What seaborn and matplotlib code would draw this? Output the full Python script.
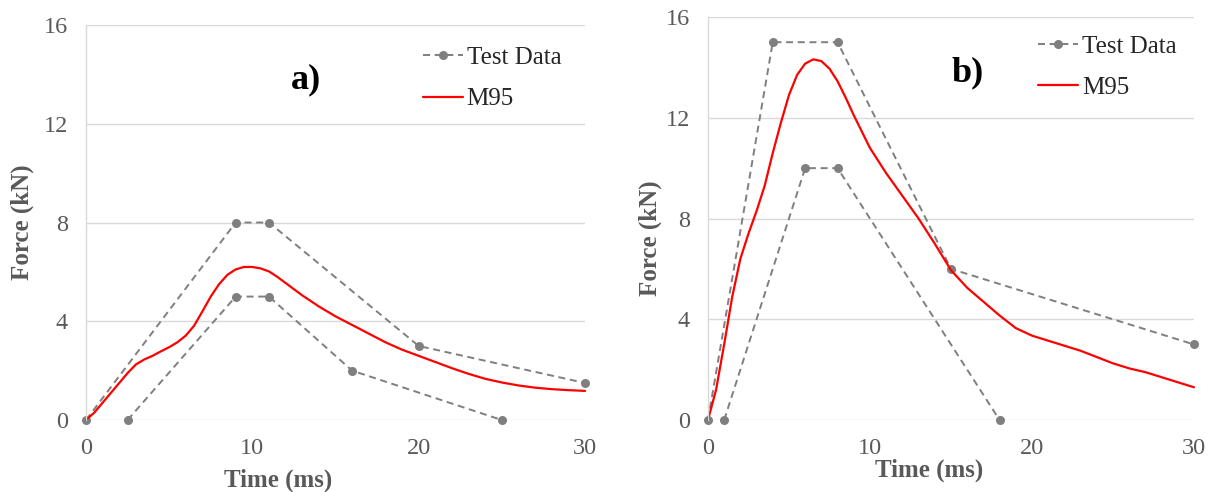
import numpy as np
import pandas as pd
import matplotlib
matplotlib.use('Agg')
import matplotlib.pyplot as plt
import seaborn as sns

# panel a) test data (upper / lower bounds)
a_test_hi_t = [0, 9, 11, 20, 30]
a_test_hi_f = [0, 8, 8, 3, 1.5]
a_test_lo_t = [2.5, 9, 11, 16, 25]
a_test_lo_f = [0, 5, 5, 2, 0]

# panel a) M95 simulation
a_m95_t = [0, 0.5, 1, 1.5, 2, 2.5, 3, 3.5, 4, 4.5, 5, 5.5, 6, 6.5, 7, 7.5, 8, 8.5, 9,
           9.5, 10, 10.5, 11, 11.5, 12, 13, 14, 15, 16, 17, 18, 19, 20, 21, 22, 23,
           24, 25, 26, 27, 28, 29, 30]
a_m95_f = [0, 0.3, 0.7, 1.1, 1.5, 1.9, 2.25, 2.45, 2.6, 2.78, 2.95, 3.15, 3.42, 3.82,
           4.4, 5.0, 5.5, 5.88, 6.1, 6.2, 6.2, 6.14, 6.02, 5.8, 5.55, 5.05, 4.6, 4.2,
           3.85, 3.5, 3.15, 2.85, 2.6, 2.35, 2.1, 1.87, 1.67, 1.52, 1.4, 1.31, 1.25,
           1.21, 1.18]

# panel b) test data
b_test_hi_t = [0, 4, 8, 15, 30]
b_test_hi_f = [0, 15, 15, 6, 3]
b_test_lo_t = [1, 6, 8, 18]
b_test_lo_f = [0, 10, 10, 0]

# panel b) M95 simulation
b_m95_t = [0, 0.5, 1, 1.5, 2, 2.5, 3, 3.5, 4, 4.5, 5, 5.5, 6, 6.5, 7, 7.5, 8, 8.5, 9,
           9.5, 10, 11, 12, 13, 14, 15, 16, 17, 18, 19, 20, 21, 22, 23, 24, 25, 26,
           27, 28, 29, 30]
b_m95_f = [0, 1.2, 3.0, 4.9, 6.4, 7.4, 8.3, 9.3, 10.6, 11.8, 12.9, 13.7, 14.15, 14.32,
           14.25, 13.95, 13.45, 12.8, 12.1, 11.45, 10.8, 9.8, 8.9, 8.0, 7.0, 5.95, 5.25,
           4.7, 4.15, 3.65, 3.35, 3.15, 2.95, 2.75, 2.5, 2.25, 2.05, 1.9, 1.7, 1.5, 1.3]

xticks = [0, 10, 20, 30]
yticks = [0, 4, 8, 12, 16]

sns.set_theme(style='white')
plt.rcParams['font.family'] = ['Liberation Serif', 'DejaVu Serif']

GRAY = '#7f7f7f'
TXT = '#595959'
GRID = '#d9d9d9'

fig = plt.figure(figsize=(12.16, 4.92), dpi=100)
ax_a = fig.add_axes([0.0707, 0.1463, 0.4104, 0.8029])
ax_b = fig.add_axes([0.5822, 0.1463, 0.3997, 0.8191])


def draw_panel(ax, hi_t, hi_f, lo_t, lo_f, m_t, m_f):
    test_kw = dict(color=GRAY, linestyle=(0, (3.6, 2.4)), linewidth=1.4,
                   marker='o', markersize=6.5, markeredgewidth=0, clip_on=False)
    sns.lineplot(x=hi_t, y=hi_f, ax=ax, label='Test Data', sort=False, **test_kw)
    sns.lineplot(x=lo_t, y=lo_f, ax=ax, sort=False, **test_kw)
    sns.lineplot(x=m_t, y=m_f, ax=ax, color='red', linewidth=1.6, label='M95',
                 sort=False, clip_on=False)
    ax.set_xlim(0, 30)
    ax.set_ylim(0, 16)
    ax.set_xticks(xticks)
    ax.set_yticks(yticks)
    ax.grid(axis='y', color=GRID, linewidth=1)
    ax.set_axisbelow(True)
    for s in ['top', 'right', 'bottom']:
        ax.spines[s].set_visible(False)
    ax.spines['left'].set_color(GRID)
    ax.spines['left'].set_linewidth(1)
    ax.tick_params(length=0, labelsize=17.5, labelcolor=TXT)
    ax.tick_params(axis='y', pad=13)
    ax.tick_params(axis='x', pad=13)
    ax.set_xlabel('Time (ms)', fontsize=18, fontweight='bold', color=TXT)
    ax.set_ylabel('Force (kN)', fontsize=18, fontweight='bold', color=TXT)


draw_panel(ax_a, a_test_hi_t, a_test_hi_f, a_test_lo_t, a_test_lo_f, a_m95_t, a_m95_f)
draw_panel(ax_b, b_test_hi_t, b_test_hi_f, b_test_lo_t, b_test_lo_f, b_m95_t, b_m95_f)

ax_a.xaxis.set_label_coords(0.385, -0.122)
ax_b.xaxis.set_label_coords(0.455, -0.095)
ax_a.yaxis.set_label_coords(-0.104, 0.5)
ax_b.yaxis.set_label_coords(-0.095, 0.45)

leg_kw = dict(frameon=False, fontsize=18, handlelength=1.6, handletextpad=0.15,
              labelspacing=0.75, borderpad=0, borderaxespad=0, loc='upper left')
ax_a.legend(bbox_to_anchor=(0.675, 0.945), **leg_kw)
ax_b.legend(bbox_to_anchor=(0.68, 0.955), **leg_kw)

ax_a.text(0.44, 0.86, 'a)', transform=ax_a.transAxes, fontsize=26, fontweight='bold',
          ha='center', va='center', color='black')
ax_b.text(0.535, 0.862, 'b)', transform=ax_b.transAxes, fontsize=26, fontweight='bold',
          ha='center', va='center', color='black')

fig.savefig('out.png', dpi=100)
